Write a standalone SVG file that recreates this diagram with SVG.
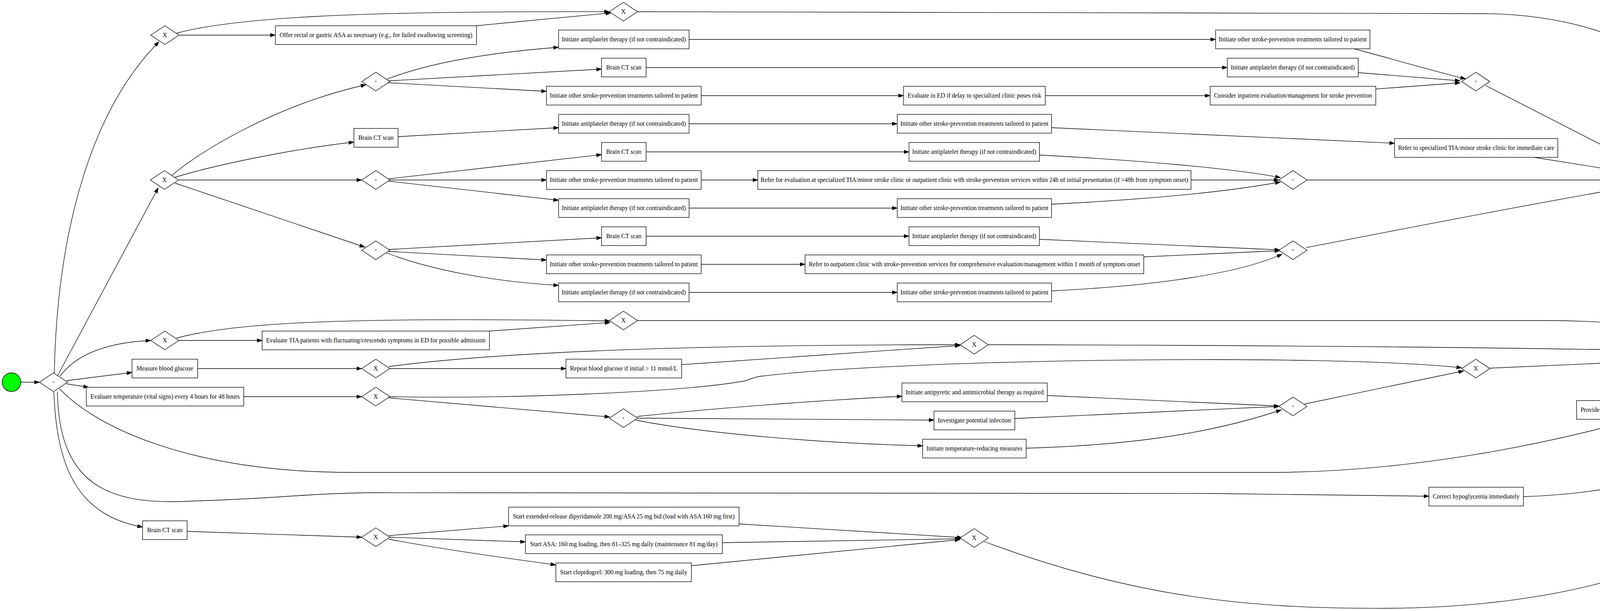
<svg xmlns="http://www.w3.org/2000/svg" width="4735" height="1565" viewBox="0 0 4735 1565">
<defs>
<style>
.n rect,.n polygon{fill:#fff;stroke:#000;stroke-width:1.33}
.n circle{stroke:#000;stroke-width:1.33}
text{font-family:"Liberation Serif","Times New Roman",serif;font-size:15.7px;text-anchor:middle;fill:#000}
text.p{font-size:12px}
#edges path{fill:none;stroke:#000;stroke-width:1.33;marker-end:url(#ah)}
</style>
<marker id="ah" markerUnits="userSpaceOnUse" markerWidth="14" markerHeight="10" refX="13.3" refY="4.65" orient="auto"><path d="M0,0 L13.3,4.65 L0,9.3 z" fill="#000" stroke="#000" stroke-width="1"/></marker>
</defs>
<rect width="4735" height="1565" fill="#fff"/>
<g id="edges">
<path d="M53,979 L101,979"/>
<path d="M139,956 C145,640 215,300 407,107"/>
<path d="M147,963 L405,481"/>
<path d="M154,963 C190,915 260,878 386,872"/>
<path d="M170,975 L338,954"/>
<path d="M170,983 L227,992"/>
<path d="M152,995 C250,1100 500,1210 900,1210 L3250,1210 C3600,1210 3950,1140 4181,1075"/>
<path d="M147,1003 C150,1260 300,1295 500,1283 C700,1278 800,1262 970,1262 L3100,1264 L3658,1271"/>
<path d="M138,1004 C145,1200 200,1320 365,1350"/>
<path d="M452,85 C600,45 900,28 1560,30"/>
<path d="M458,90 L705,90"/>
<path d="M1218,66 L1564,33"/>
<path d="M1632,30 L3800,35 C4300,40 4590,350 4596,884"/>
<path d="M437,452 C500,395 700,270 937,217"/>
<path d="M448,454 C560,420 760,380 906,364"/>
<path d="M458,461 L926,461"/>
<path d="M448,469 L934,633"/>
<path d="M990,203 C1100,160 1250,135 1430,121"/>
<path d="M995,207 L1540,177"/>
<path d="M995,212 L1399,234"/>
<path d="M995,458 L1540,396"/>
<path d="M998,461 L1399,461"/>
<path d="M995,464 L1430,513"/>
<path d="M995,639 L1540,609"/>
<path d="M995,644 L1399,666"/>
<path d="M990,648 C1100,690 1250,720 1430,731"/>
<path d="M1019,350 L1430,327"/>
<path d="M1764,101 L3112,101"/>
<path d="M1654,173 L3142,173"/>
<path d="M1795,245 L2313,245"/>
<path d="M2676,245 L3098,245"/>
<path d="M1764,317 L2297,317"/>
<path d="M1654,389 L2327,389"/>
<path d="M1795,461 L1940,461"/>
<path d="M1764,533 L2297,533"/>
<path d="M1654,605 L2327,605"/>
<path d="M1795,677 L2061,677"/>
<path d="M1764,749 L2297,749"/>
<path d="M2692,327 L3570,367"/>
<path d="M2661,397 C2900,410 3150,430 3278,455"/>
<path d="M3049,461 L3274,461"/>
<path d="M2692,523 C2950,510 3150,490 3278,466"/>
<path d="M2661,613 L3276,640"/>
<path d="M2928,658 L3276,642"/>
<path d="M2692,745 C2900,735 3150,710 3282,651"/>
<path d="M3467,125 C3560,150 3680,185 3752,202"/>
<path d="M3477,186 L3738,207"/>
<path d="M3522,228 L3738,212"/>
<path d="M3803,219 L4252,449"/>
<path d="M3927,403 L4247,454"/>
<path d="M3346,461 L4239,461"/>
<path d="M3344,634 C3550,595 3900,525 4247,466"/>
<path d="M4288,480 L4583,890"/>
<path d="M452,866 C600,825 900,812 1561,822"/>
<path d="M458,872 L671,872"/>
<path d="M1253,848 L1562,826"/>
<path d="M1632,821 L3950,821 C4200,821 4480,860 4573,897"/>
<path d="M506,944 L926,944"/>
<path d="M998,944 L1449,944"/>
<path d="M995,939 C1250,905 1700,883 2458,883"/>
<path d="M1745,934 L2458,885"/>
<path d="M2530,883 C3200,884 4000,890 4562,905"/>
<path d="M624,1016 L926,1016"/>
<path d="M995,1019 L1561,1068"/>
<path d="M998,1016 C1300,1022 1750,1005 1910,975 Q1925,968 1945,964 C2300,920 3400,905 3742,942"/>
<path d="M1630,1067 C1800,1048 2100,1025 2309,1015"/>
<path d="M1632,1071 L2391,1076"/>
<path d="M1627,1076 C1800,1110 2100,1135 2362,1142"/>
<path d="M2681,1013 L3274,1040"/>
<path d="M2598,1072 L3274,1041"/>
<path d="M2627,1148 C2900,1140 3100,1110 3280,1050"/>
<path d="M3339,1035 L3747,950"/>
<path d="M3814,943 L4562,910"/>
<path d="M4347,1026 C4420,980 4520,940 4577,922"/>
<path d="M3900,1272 C4300,1260 4560,1120 4590,933"/>
<path d="M479,1361 L926,1376"/>
<path d="M995,1372 L1302,1347"/>
<path d="M998,1376 L1345,1388"/>
<path d="M995,1381 C1150,1410 1300,1430 1423,1447"/>
<path d="M1892,1342 L2463,1377"/>
<path d="M1849,1390 L2458,1380"/>
<path d="M1770,1449 L2458,1382"/>
<path d="M2519,1387 C2900,1530 3200,1560 3550,1558 C4100,1555 4450,1400 4530,1230 C4570,1100 4587,1000 4596,933"/>
<path d="M4634,908 L4682,908"/>
</g>
<g id="start" class="n"><circle cx="29.5" cy="979" r="24" fill="#00ff00"/></g>
<g id="end" class="n"><circle cx="4706" cy="908" r="24" fill="#ffa500"/></g>
<g id="p0" class="n"><polygon points="101,979 137,955 173,979 137,1003"/><text class="p" x="137" y="983">+</text></g>
<g id="x1" class="n"><polygon points="386,90 422,66 458,90 422,114"/><text x="422" y="95">X</text></g>
<g id="x2" class="n"><polygon points="385,461 421,437 457,461 421,485"/><text x="421" y="466">X</text></g>
<g id="x4" class="n"><polygon points="386,872 422,848 458,872 422,896"/><text x="422" y="877">X</text></g>
<g id="p1" class="n"><polygon points="926,209 962,185 998,209 962,233"/><text class="p" x="962" y="213">+</text></g>
<g id="p2" class="n"><polygon points="926,461 962,437 998,461 962,485"/><text class="p" x="962" y="465">+</text></g>
<g id="p3" class="n"><polygon points="926,641 962,617 998,641 962,665"/><text class="p" x="962" y="645">+</text></g>
<g id="x6" class="n"><polygon points="926,944 962,920 998,944 962,968"/><text x="962" y="949">X</text></g>
<g id="x7" class="n"><polygon points="926,1016 962,992 998,1016 962,1040"/><text x="962" y="1021">X</text></g>
<g id="x8" class="n"><polygon points="926,1376 962,1352 998,1376 962,1400"/><text x="962" y="1381">X</text></g>
<g id="x3" class="n"><polygon points="1560,30 1596,6 1632,30 1596,54"/><text x="1596" y="35">X</text></g>
<g id="x5" class="n"><polygon points="1560,821 1596,797 1632,821 1596,845"/><text x="1596" y="826">X</text></g>
<g id="p4" class="n"><polygon points="1560,1071 1596,1047 1632,1071 1596,1095"/><text class="p" x="1596" y="1075">+</text></g>
<g id="x9" class="n"><polygon points="2458,883 2494,859 2530,883 2494,907"/><text x="2494" y="888">X</text></g>
<g id="x10" class="n"><polygon points="2458,1378 2494,1354 2530,1378 2494,1402"/><text x="2494" y="1383">X</text></g>
<g id="j1" class="n"><polygon points="3742,209 3778,185 3814,209 3778,233"/><text class="p" x="3778" y="213">+</text></g>
<g id="j2" class="n"><polygon points="3274,461 3310,437 3346,461 3310,485"/><text class="p" x="3310" y="465">+</text></g>
<g id="j3" class="n"><polygon points="3274,641 3310,617 3346,641 3310,665"/><text class="p" x="3310" y="645">+</text></g>
<g id="j4" class="n"><polygon points="3274,1041 3310,1017 3346,1041 3310,1065"/><text class="p" x="3310" y="1045">+</text></g>
<g id="x12" class="n"><polygon points="3742,944 3778,920 3814,944 3778,968"/><text x="3778" y="949">X</text></g>
<g id="x11" class="n"><polygon points="4239,461 4275,437 4311,461 4275,485"/><text x="4275" y="466">X</text></g>
<g id="pend" class="n"><polygon points="4562,908 4598,884 4634,908 4598,932"/><text class="p" x="4598" y="912">+</text></g>
<g id="t1" class="n"><rect x="705" y="66" width="515" height="48"/><text x="962.5" y="95">Offer rectal or gastric ASA as necessary (e.g., for failed swallowing screening)</text></g>
<g id="t2" class="n"><rect x="1430" y="77" width="334" height="48"/><text x="1597" y="106">Initiate antiplatelet therapy (if not contraindicated)</text></g>
<g id="t3" class="n"><rect x="1540" y="149" width="114" height="48"/><text x="1597" y="178">Brain CT scan</text></g>
<g id="t4" class="n"><rect x="1399" y="221" width="396" height="48"/><text x="1597" y="250">Initiate other stroke-prevention treatments tailored to patient</text></g>
<g id="t5" class="n"><rect x="1430" y="293" width="334" height="48"/><text x="1597" y="322">Initiate antiplatelet therapy (if not contraindicated)</text></g>
<g id="t6" class="n"><rect x="1540" y="365" width="114" height="48"/><text x="1597" y="394">Brain CT scan</text></g>
<g id="t7" class="n"><rect x="1399" y="437" width="396" height="48"/><text x="1597" y="466">Initiate other stroke-prevention treatments tailored to patient</text></g>
<g id="t8" class="n"><rect x="1430" y="509" width="334" height="48"/><text x="1597" y="538">Initiate antiplatelet therapy (if not contraindicated)</text></g>
<g id="t9" class="n"><rect x="1540" y="581" width="114" height="48"/><text x="1597" y="610">Brain CT scan</text></g>
<g id="t10" class="n"><rect x="1399" y="653" width="396" height="48"/><text x="1597" y="682">Initiate other stroke-prevention treatments tailored to patient</text></g>
<g id="t11" class="n"><rect x="1430" y="725" width="334" height="48"/><text x="1597" y="754">Initiate antiplatelet therapy (if not contraindicated)</text></g>
<g id="t12" class="n"><rect x="906" y="329" width="113" height="48"/><text x="962.5" y="358">Brain CT scan</text></g>
<g id="t13" class="n"><rect x="671" y="848" width="582" height="48"/><text x="962" y="877">Evaluate TIA patients with fluctuating/crescendo symptoms in ED for possible admission</text></g>
<g id="t14" class="n"><rect x="338" y="920" width="168" height="48"/><text x="422" y="949">Measure blood glucose</text></g>
<g id="t15" class="n"><rect x="221" y="992" width="403" height="48"/><text x="422.5" y="1021">Evaluate temperature (vital signs) every 4 hours for 48 hours</text></g>
<g id="t16" class="n"><rect x="365" y="1334" width="114" height="48"/><text x="422" y="1363">Brain CT scan</text></g>
<g id="t17" class="n"><rect x="1449" y="920" width="296" height="48"/><text x="1597" y="949">Repeat blood glucose if initial &gt; 11 mmol/L</text></g>
<g id="t18" class="n"><rect x="1302" y="1299" width="590" height="48"/><text x="1597" y="1328">Start extended-release dipyridamole 200 mg/ASA 25 mg bid (load with ASA 160 mg first)</text></g>
<g id="t19" class="n"><rect x="1345" y="1370" width="504" height="48"/><text x="1597" y="1399">Start ASA: 160 mg loading, then 81–325 mg daily (maintenance 81 mg/day)</text></g>
<g id="t20" class="n"><rect x="1423" y="1442" width="347" height="48"/><text x="1596.5" y="1471">Start clopidogrel: 300 mg loading, then 75 mg daily</text></g>
<g id="t21" class="n"><rect x="2313" y="221" width="363" height="48"/><text x="2494.5" y="250">Evaluate in ED if delay to specialized clinic poses risk</text></g>
<g id="t22" class="n"><rect x="2297" y="293" width="395" height="48"/><text x="2494.5" y="322">Initiate other stroke-prevention treatments tailored to patient</text></g>
<g id="t23" class="n"><rect x="2327" y="365" width="334" height="48"/><text x="2494" y="394">Initiate antiplatelet therapy (if not contraindicated)</text></g>
<g id="t24" class="n"><rect x="1940" y="437" width="1109" height="48"/><text x="2494.5" y="466">Refer for evaluation at specialized TIA/minor stroke clinic or outpatient clinic with stroke-prevention services within 24h of initial presentation (if &gt;48h from symptom onset)</text></g>
<g id="t25" class="n"><rect x="2297" y="509" width="395" height="48"/><text x="2494.5" y="538">Initiate other stroke-prevention treatments tailored to patient</text></g>
<g id="t26" class="n"><rect x="2327" y="581" width="334" height="48"/><text x="2494" y="610">Initiate antiplatelet therapy (if not contraindicated)</text></g>
<g id="t27" class="n"><rect x="2061" y="653" width="867" height="48"/><text x="2494.5" y="682">Refer to outpatient clinic with stroke-prevention services for comprehensive evaluation/management within 1 month of symptom onset</text></g>
<g id="t28" class="n"><rect x="2297" y="725" width="395" height="48"/><text x="2494.5" y="754">Initiate other stroke-prevention treatments tailored to patient</text></g>
<g id="t29" class="n"><rect x="2309" y="981" width="372" height="48"/><text x="2495" y="1010">Initiate antipyretic and antimicrobial therapy as required</text></g>
<g id="t30" class="n"><rect x="2391" y="1053" width="207" height="48"/><text x="2494.5" y="1082">Investigate potential infection</text></g>
<g id="t31" class="n"><rect x="2362" y="1125" width="265" height="48"/><text x="2494.5" y="1154">Initiate temperature-reducing measures</text></g>
<g id="t32" class="n"><rect x="3112" y="77" width="395" height="48"/><text x="3309.5" y="106">Initiate other stroke-prevention treatments tailored to patient</text></g>
<g id="t33" class="n"><rect x="3142" y="149" width="335" height="48"/><text x="3309.5" y="178">Initiate antiplatelet therapy (if not contraindicated)</text></g>
<g id="t34" class="n"><rect x="3098" y="221" width="424" height="48"/><text x="3310" y="250">Consider inpatient evaluation/management for stroke prevention</text></g>
<g id="t35" class="n"><rect x="3570" y="355" width="418" height="48"/><text x="3779" y="384">Refer to specialized TIA/minor stroke clinic for immediate care</text></g>
<g id="t36" class="n"><rect x="3658" y="1248" width="242" height="48"/><text x="3779" y="1277">Correct hypoglycemia immediately</text></g>
<g id="t37" class="n"><rect x="4036" y="1026" width="477" height="48"/><text x="4274.5" y="1055">Provide cross-continuum secondary prevention assessment and therapies</text></g>
</svg>
